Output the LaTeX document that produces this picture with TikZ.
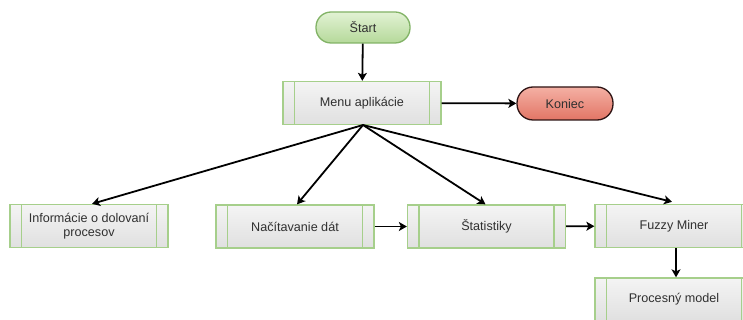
\documentclass[tikz,border=0pt]{standalone}
\usepackage{fontspec}
\setmainfont{Liberation Sans}
\usetikzlibrary{arrows.meta,positioning}
\definecolor{procborder}{HTML}{A6CF8B}
\definecolor{proctop}{HTML}{F4F4F4}
\definecolor{procbot}{HTML}{E0E0E0}
\definecolor{startborder}{HTML}{82B366}
\definecolor{starttop}{HTML}{E2F2D4}
\definecolor{startbot}{HTML}{B5D99A}
\definecolor{endborder}{HTML}{2E1414}
\definecolor{endtop}{HTML}{F4B0A4}
\definecolor{endbot}{HTML}{E27565}
\definecolor{txt}{HTML}{303030}
\tikzset{
  x=1pt, y=-1pt,
  every node/.style={font=\fontsize{12.6}{14.5}\selectfont, text=txt},
  procbox/.style={draw=procborder, line width=1.3pt, rectangle,
    minimum width=158pt, minimum height=43pt, inner sep=0pt, align=center,
    top color=proctop, bottom color=procbot,
    path picture={
      \draw[procborder, line width=1.1pt]
        ([xshift=11.5pt]path picture bounding box.north west) --
        ([xshift=11.5pt]path picture bounding box.south west)
        ([xshift=-11.5pt]path picture bounding box.north east) --
        ([xshift=-11.5pt]path picture bounding box.south east);
    }},
  startterm/.style={draw=startborder, line width=1.3pt, rounded corners=15pt,
    minimum width=94pt, minimum height=31pt, inner sep=0pt,
    top color=starttop, bottom color=startbot},
  endterm/.style={draw=endborder, line width=1.3pt, rounded corners=16pt,
    minimum width=96pt, minimum height=33pt, inner sep=0pt,
    top color=endtop, bottom color=endbot},
  flow/.style={draw=black, line width=1.8pt,
    -{Stealth[length=8pt,width=9pt,inset=2pt]}},
}
\begin{document}
\begin{tikzpicture}
\clip (0,0) rectangle (743,320);
\fill[white] (0,0) rectangle (743,320);

\node[startterm] (start) at (363,27.5) {Štart};
\node[procbox] (menu) at (362,103) {Menu aplikácie};
\node[endterm] (end) at (565,103.5) {Koniec};

\node[procbox] (info) at (89,226) {Informácie o dolovaní\\procesov};
\node[procbox] (load) at (295,226.5) {Načítavanie dát};
\node[procbox] (stat) at (486.5,226.5) {Štatistiky};
\node[procbox] (fuzzy) at (674,226) {Fuzzy Miner};
\node[procbox] (model) at (674,299.5) {Procesný model};

\draw[flow] (start) -- (menu);
\draw[flow] (menu) -- (end);
\coordinate (fan) at (363,125);
\draw[flow] (fan) -- ([xshift=3pt]info.north);
\draw[flow] (fan) -- ([xshift=2pt]load.north);
\draw[flow] (fan) -- ([xshift=-1pt]stat.north);
\draw[flow] (fan) -- ([xshift=-2pt,yshift=2pt]fuzzy.north);
\draw[flow] (load) -- (stat);
\draw[flow] (stat) -- (fuzzy);
\draw[flow] ([xshift=2pt]fuzzy.south) -- ([xshift=2pt]model.north);
\end{tikzpicture}
\end{document}
